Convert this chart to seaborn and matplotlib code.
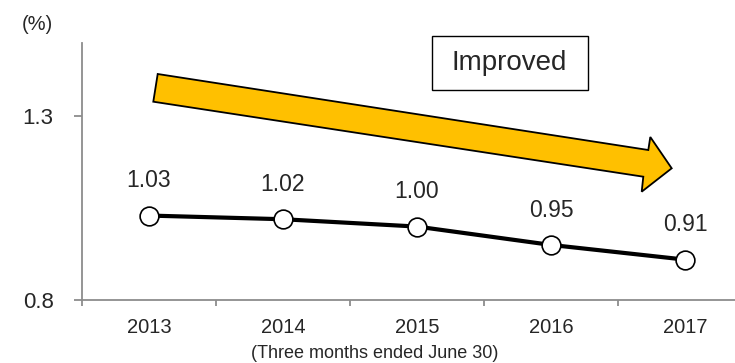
import matplotlib
matplotlib.use("Agg")
import matplotlib.pyplot as plt
import matplotlib.patches as mpatches
import seaborn as sns

years = ["2013", "2014", "2015", "2016", "2017"]
values = [1.03, 1.02, 1.00, 0.95, 0.91]
y_ticks = [0.8, 1.3]

sns.set_style("white")
plt.rcParams["font.family"] = ["Liberation Sans", "DejaVu Sans"]

W, H = 735, 363
fig = plt.figure(figsize=(W / 100, H / 100), dpi=100)
ax = fig.add_axes([82 / W, 63 / H, (W - 82) / W, 257 / H])


def px(x, y):
    # image pixel coords -> figure fraction
    return (x / W, 1 - y / H)


sns.pointplot(x=years, y=values, ax=ax, color="black", linewidth=3,
              markersize=13.5, markerfacecolor="white",
              markeredgecolor="black", markeredgewidth=1.2)

for i, v in enumerate(values):
    ax.annotate(f"{v:.2f}", (i, v), xytext=(0, 25), textcoords="offset points",
                ha="center", va="center", fontsize=16.5)

ax.set_xticks([i - 0.5 for i in range(len(years))], minor=True)
ax.set_xlim(-0.5, -0.5 + 653 / 134)
ax.set_ylim(0.8, 1.5)
ax.set_yticks(y_ticks)
ax.set_yticklabels([str(t) for t in y_ticks])
ax.set_xlabel("")
ax.set_ylabel("")

gray = "#8c8c8c"
for s in ["top", "right"]:
    ax.spines[s].set_visible(False)
for s in ["left", "bottom"]:
    ax.spines[s].set_color(gray)
    ax.spines[s].set_linewidth(1.3)

ax.tick_params(axis="y", left=True, length=5.5, width=1.3, color=gray, pad=15,
               labelsize=16)
ax.tick_params(axis="x", which="major", bottom=True, length=0, pad=13,
               labelsize=14.5)
ax.tick_params(axis="x", which="minor", bottom=True, length=4.5, width=1.3,
               color=gray)

# trend arrow
arrow_pts = [px(157.7, 74), px(648.3, 150), px(650.3, 137), px(671.7, 168.3),
             px(641.7, 191.7), px(643.3, 176.7), px(153.3, 101.7)]
fig.patches.append(mpatches.Polygon(arrow_pts, closed=True, facecolor="#FFC000",
                                    edgecolor="black", linewidth=1.3,
                                    transform=fig.transFigure, zorder=1))

# "Improved" box
x0, y0 = px(431.7, 90)
x1, y1 = px(587.7, 36)
fig.patches.append(mpatches.Rectangle((x0, y0), x1 - x0, y1 - y0, facecolor="white",
                                      edgecolor="black", linewidth=1,
                                      transform=fig.transFigure, zorder=2))
fig.text(*px(509, 63), "Improved", ha="center", va="center", fontsize=20)

fig.text(*px(37, 25), "(%)", ha="center", va="center", fontsize=14.5)
fig.text(*px(375, 353), "(Three months ended June 30)", ha="center", va="center",
         fontsize=13)

fig.savefig("out.png", dpi=100)
plt.close(fig)
